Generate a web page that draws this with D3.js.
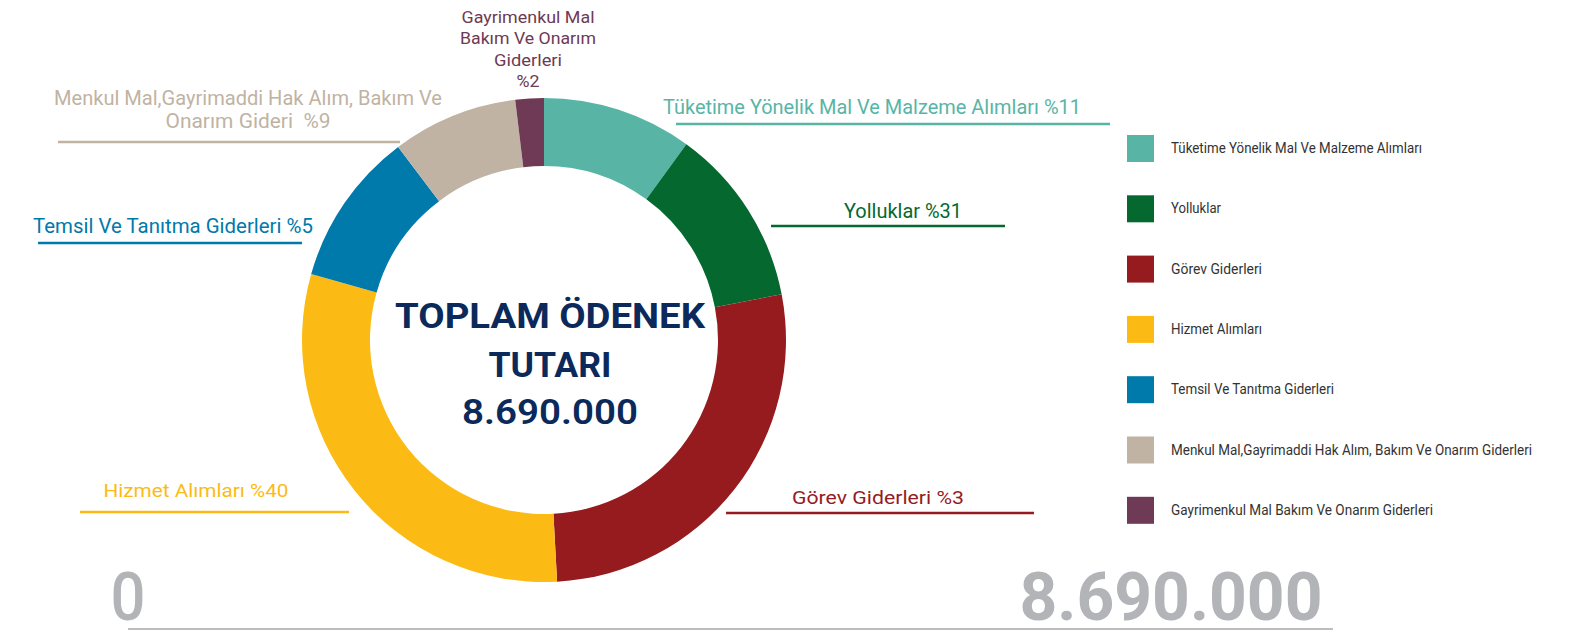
<!DOCTYPE html>
<html>
<head>
<meta charset="utf-8">
<script src="https://cdn.jsdelivr.net/npm/d3@7"></script>
<style>
  body { margin: 0; background: #fff; }
  svg { display: block; font-family: Roboto, "Noto Sans", sans-serif; }
</style>
</head>
<body>
<svg id="chart"></svg>
<script>
var categories = [
  "Tüketime Yönelik Mal Ve Malzeme Alımları",
  "Yolluklar",
  "Görev Giderleri",
  "Hizmet Alımları",
  "Temsil Ve Tanıtma Giderleri",
  "Menkul Mal,Gayrimaddi Hak Alım, Bakım Ve Onarım Giderleri",
  "Gayrimenkul Mal Bakım Ve Onarım Giderleri"
];
var values = [870000, 1040000, 2360000, 2630000, 895000, 730000, 165000];
var colors = ["#58b5a6", "#05682f", "#961b1f", "#fcbb14", "#0079ab", "#c0b3a3", "#6e3a55"];
// label texts as printed next to the slices (lines)
var labelTexts = [
  ["Tüketime Yönelik Mal Ve Malzeme Alımları %11"],
  ["Yolluklar %31"],
  ["Görev Giderleri %3"],
  ["Hizmet Alımları %40"],
  ["Temsil Ve Tanıtma Giderleri %5"],
  ["Menkul Mal,Gayrimaddi Hak Alım, Bakım Ve", "Onarım Gideri  %9"],
  ["Gayrimenkul Mal", "Bakım Ve Onarım", "Giderleri", "%2"]
];
var centerLines = ["TOPLAM ÖDENEK", "TUTARI", "8.690.000"];
var rangeLabels = ["0", "8.690.000"];

// layout for the slice labels (x centre, baselines, widths, underline)
var labelLayout = [
  { x: 872, y: [114], w: [418], size: 21, line: [676, 1110, 124] },
  { x: 903, y: [218], w: [118], size: 21, line: [771, 1005, 226] },
  { x: 878, y: [504], w: [172], size: 19, line: [726, 1034, 513] },
  { x: 196, y: [497], w: [185], size: 19, line: [80, 349, 512] },
  { x: 173, y: [233], w: [280], size: 21, line: [38, 302, 243] },
  { x: 248, y: [105, 128], w: [388, 165], size: 21, line: [58, 400, 142] },
  { x: 528, y: [23, 44, 66, 87], w: [133, 136, 68, 23], size: 16.5, line: null }
];

var width = 1570, height = 630;
var cx = 544, cy = 340;

var svg = d3.select("#chart")
    .attr("width", width)
    .attr("height", height);

var pie = d3.pie().sort(null).value(d => d);
var arc = d3.arc().innerRadius(174).outerRadius(242);

svg.append("g")
    .attr("transform", `translate(${cx},${cy})`)
  .selectAll("path")
  .data(pie(values))
  .enter()
    .append("path")
    .attr("d", arc)
    .attr("fill", (d, i) => colors[i]);

// slice labels with underlines
labelTexts.forEach((lines, i) => {
  var lay = labelLayout[i];
  var g = svg.append("g");
  lines.forEach((t, j) => {
    g.append("text")
      .attr("x", lay.x)
      .attr("y", lay.y[j])
      .attr("text-anchor", "middle")
      .attr("font-size", lay.size)
      .attr("fill", colors[i])
      .attr("textLength", lay.w[j])
      .attr("lengthAdjust", "spacingAndGlyphs")
      .style("white-space", "pre")
      .text(t);
  });
  if (lay.line) {
    g.append("line")
      .attr("x1", lay.line[0]).attr("x2", lay.line[1])
      .attr("y1", lay.line[2]).attr("y2", lay.line[2])
      .attr("stroke", colors[i])
      .attr("stroke-width", 2.5);
  }
});

// centre text
var centerLayout = [
  { y: 328, w: 310 },
  { y: 377, w: 123 },
  { y: 424, w: 176 }
];
centerLines.forEach((t, i) => {
  svg.append("text")
    .attr("x", 550)
    .attr("y", centerLayout[i].y)
    .attr("text-anchor", "middle")
    .attr("font-size", 35)
    .attr("font-weight", i < 2 ? 700 : 600)
    .attr("fill", "#0b2a5b")
    .attr("textLength", centerLayout[i].w)
    .attr("lengthAdjust", "spacingAndGlyphs")
    .text(t);
});

// legend
var legend = svg.append("g")
    .attr("transform", "translate(1127,135)");

var item = legend.selectAll(".item")
  .data(categories)
  .enter()
    .append("g")
    .classed("item", true)
    .attr("transform", (d, i) => `translate(0,${i * 60.3})`);

item.append("rect")
    .attr("width", 27)
    .attr("height", 27)
    .attr("fill", (d, i) => colors[i]);

var legendWidths = [251, 50, 91, 91, 163, 361, 262];
item.append("text")
    .attr("x", 44)
    .attr("y", 18)
    .attr("font-size", 14)
    .attr("fill", "#333")
    .attr("textLength", (d, i) => legendWidths[i])
    .attr("lengthAdjust", "spacingAndGlyphs")
    .text(d => d);

// range labels at the bottom
svg.append("text")
    .attr("x", 128)
    .attr("y", 620)
    .attr("text-anchor", "middle")
    .attr("font-size", 66)
    .attr("font-weight", 500)
    .attr("fill", "#b3b4b7")
    .attr("textLength", 35)
    .attr("lengthAdjust", "spacingAndGlyphs")
    .text(rangeLabels[0]);

svg.append("text")
    .attr("x", 1171)
    .attr("y", 620)
    .attr("text-anchor", "middle")
    .attr("font-size", 66)
    .attr("font-weight", 700)
    .attr("fill", "#b3b4b7")
    .attr("textLength", 303)
    .attr("lengthAdjust", "spacingAndGlyphs")
    .text(rangeLabels[1]);

svg.append("line")
    .attr("x1", 128).attr("x2", 1333)
    .attr("y1", 629).attr("y2", 629)
    .attr("stroke", "#bdbdbd")
    .attr("stroke-width", 2);
</script>
</body>
</html>
